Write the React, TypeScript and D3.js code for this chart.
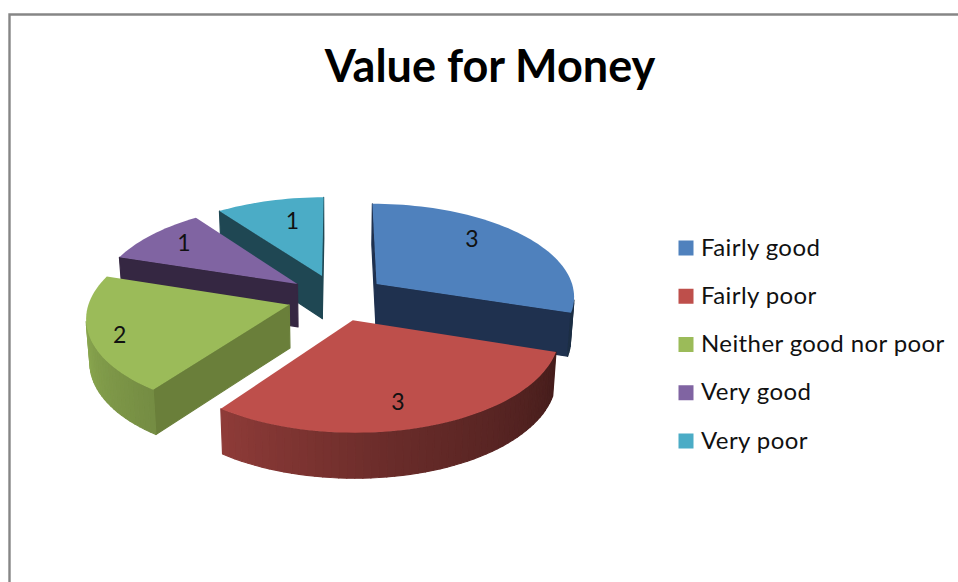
import React from "react";
import * as d3 from "d3";

const titleText = "Value for Money";
const categories = ["Fairly good", "Fairly poor", "Neither good nor poor", "Very good", "Very poor"];
const counts = [3, 3, 2, 1, 1];
const topColors = ["#4F81BD", "#BE4F4B", "#9BBB59", "#8064A2", "#4BACC6"];
const cutColors = ["#1F314F", "#5A2422", "#6A7F3A", "#352742", "#1F4753"];
const labelRadii = [0.62, 0.77, 0.9, 0.77, 0.6];
const labelNudgeX = [3, -10, 10, 0, 3];
const labelNudgeY = [-15, 1, 2, -3, -9];

const W = 958, H = 582;
const FONT = "Lato, 'Open Sans', sans-serif";

const cx = 337, cy = 297.5, A = 199, B = 93, persp = 0.12, explode = 0.25, depth = 43;
const sx = d3.scaleLinear().domain([0, 1]).range([cx, cx + A]);
const sy = d3.scaleLinear().domain([0, 1]).range([cy, cy + B]);

type P = [number, number];
const project = (x: number, y: number): P => {
  const w = 1 - persp * y;
  return [sx(x / w), sy(y / w)];
};
const drop = (x: number, y: number): P => {
  const [px, py] = project(x, y);
  return [cx + (px - cx) * 0.985, py + depth / (1 - 0.045 * y)];
};
const wallShade = d3.scaleLinear().domain([108, 170, 216, 270, 288]).range([0.36, 0.55, 0.75, 0.92, 0.95]).clamp(true);
const darken = (c: string, f: number) => {
  const r = d3.rgb(c);
  return d3.rgb(r.r * f, r.g * f, r.b * f).formatHex();
};
const line = d3.line<P>().x((d) => d[0]).y((d) => d[1]);
const closed = (pts: P[]) => line(pts) + "Z";
const area = (pts: P[]) => d3.polygonArea(pts);

const arcs = d3.pie<number>().sort(null)(counts);

const slices = arcs.map((a, i) => {
  const mid = (a.startAngle + a.endAngle) / 2;
  const ox = explode * Math.sin(mid), oy = -explode * Math.cos(mid);
  const world = (r: number, t: number): P => [ox + r * Math.sin(t), oy - r * Math.cos(t)];
  const n = Math.max(8, Math.round(((a.endAngle - a.startAngle) * 180) / Math.PI / 2));
  const angles = d3.range(n + 1).map((k) => a.startAngle + ((a.endAngle - a.startAngle) * k) / n);
  const rim = angles.map((t) => world(1, t));
  const apex = world(0, 0);
  const walls: { d: string; fill: string }[] = [];
  const addWall = (p: P, q: P, fill: string) => {
    const quad: P[] = [project(p[0], p[1]), project(q[0], q[1]), drop(q[0], q[1]), drop(p[0], p[1])];
    if (area(quad) > 0) walls.push({ d: closed(quad), fill });
  };
  addWall(apex, rim[0], cutColors[i]);
  addWall(rim[n], apex, cutColors[i]);
  for (let k = 0; k < n; k++) {
    const deg = (((angles[k] + angles[k + 1]) / 2) * 180) / Math.PI;
    addWall(rim[k], rim[k + 1], darken(topColors[i], wallShade(deg)));
  }
  const top = closed([project(apex[0], apex[1]), ...rim.map((p) => project(p[0], p[1]))]);
  const lr = labelRadii[i];
  const lab = project(ox + lr * Math.sin(mid), oy - lr * Math.cos(mid));
  return { i, oy, walls, top, lab: [lab[0] + labelNudgeX[i], lab[1] + labelNudgeY[i]] };
});
const order = [...slices].sort((a, b) => d3.ascending(a.oy, b.oy));

const legendY = d3.scalePoint<string>().domain(categories).range([248, 441]);

export default function App() {
  return (
    <svg width={W} height={H} viewBox={`0 0 ${W} ${H}`} style={{ position: "fixed", left: 0, top: 0, display: "block", background: "#fff" }}>
      <path d={`M9.5 ${H}V14.5H${W}`} fill="none" stroke="#868686" strokeWidth={2.4} />
      <text x={490} y={82} textAnchor="middle" fontFamily={FONT} fontWeight={700} fontSize={45} fill="#000">
        {titleText}
      </text>
      {order.map((s) => (
        <g key={s.i}>
          {s.walls.map((w, j) => (
            <path key={j} d={w.d} fill={w.fill} stroke={w.fill} strokeWidth={1.2} strokeLinejoin="round" />
          ))}
          <path d={s.top} fill={topColors[s.i]} />
        </g>
      ))}
      {slices.map((s) => (
        <text key={s.i} x={s.lab[0]} y={s.lab[1]} textAnchor="middle" dominantBaseline="central" fontFamily={FONT} fontSize={23} fill="#111">
          {counts[s.i]}
        </text>
      ))}
      {categories.map((c, i) => (
        <g key={c}>
          <rect x={678.5} y={legendY(c)! - 7.5} width={15} height={15} fill={topColors[i]} />
          <text x={701} y={legendY(c)! - 2} dominantBaseline="central" fontFamily={FONT} fontSize={24} letterSpacing={0.4} fill="#111">
            {c}
          </text>
        </g>
      ))}
    </svg>
  );
}
